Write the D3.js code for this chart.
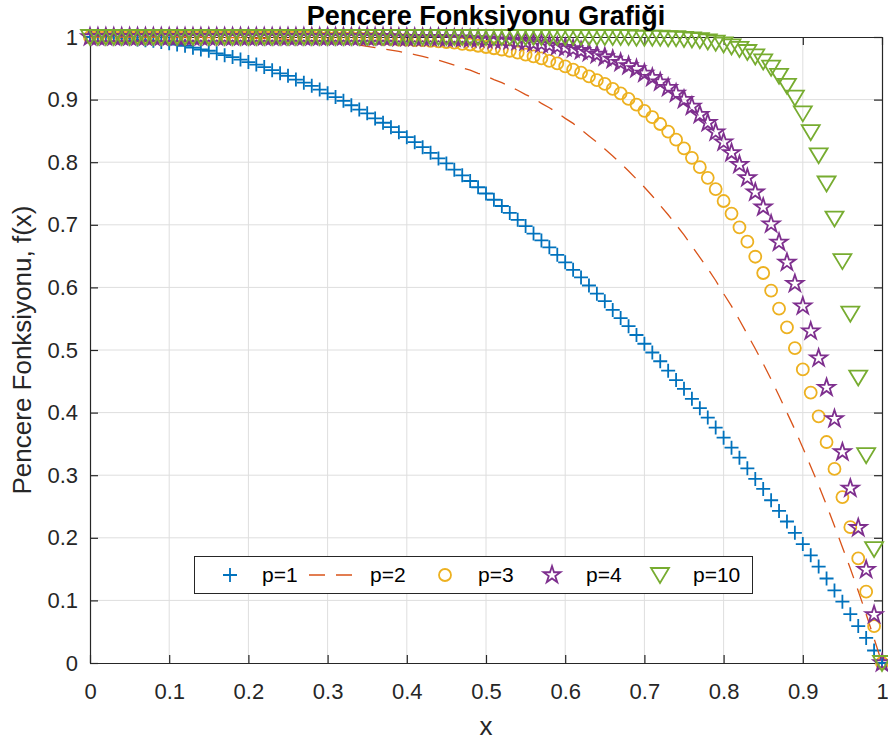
<!DOCTYPE html>
<html>
<head>
<meta charset="utf-8">
<script src="https://cdn.jsdelivr.net/npm/d3@7"></script>
<style>
    body { margin: 0; background: #ffffff; }
    svg { display: block; font-family: "Liberation Sans", Arial, sans-serif; }
</style>
</head>
<body>
<script>

const xValues = [
    0.00, 0.01, 0.02, 0.03, 0.04, 0.05, 0.06, 0.07, 0.08, 0.09,
    0.10, 0.11, 0.12, 0.13, 0.14, 0.15, 0.16, 0.17, 0.18, 0.19,
    0.20, 0.21, 0.22, 0.23, 0.24, 0.25, 0.26, 0.27, 0.28, 0.29,
    0.30, 0.31, 0.32, 0.33, 0.34, 0.35, 0.36, 0.37, 0.38, 0.39,
    0.40, 0.41, 0.42, 0.43, 0.44, 0.45, 0.46, 0.47, 0.48, 0.49,
    0.50, 0.51, 0.52, 0.53, 0.54, 0.55, 0.56, 0.57, 0.58, 0.59,
    0.60, 0.61, 0.62, 0.63, 0.64, 0.65, 0.66, 0.67, 0.68, 0.69,
    0.70, 0.71, 0.72, 0.73, 0.74, 0.75, 0.76, 0.77, 0.78, 0.79,
    0.80, 0.81, 0.82, 0.83, 0.84, 0.85, 0.86, 0.87, 0.88, 0.89,
    0.90, 0.91, 0.92, 0.93, 0.94, 0.95, 0.96, 0.97, 0.98, 0.99,
    1.00
];

const p1Values = [
    1.000, 1.000, 1.000, 0.999, 0.998, 0.998, 0.996, 0.995, 0.994, 0.992,
    0.990, 0.988, 0.986, 0.983, 0.980, 0.978, 0.974, 0.971, 0.968, 0.964,
    0.960, 0.956, 0.952, 0.947, 0.942, 0.938, 0.932, 0.927, 0.922, 0.916,
    0.910, 0.904, 0.898, 0.891, 0.884, 0.878, 0.870, 0.863, 0.856, 0.848,
    0.840, 0.832, 0.824, 0.815, 0.806, 0.798, 0.788, 0.779, 0.770, 0.760,
    0.750, 0.740, 0.730, 0.719, 0.708, 0.698, 0.686, 0.675, 0.664, 0.652,
    0.640, 0.628, 0.616, 0.603, 0.590, 0.578, 0.564, 0.551, 0.538, 0.524,
    0.510, 0.496, 0.482, 0.467, 0.452, 0.438, 0.422, 0.407, 0.392, 0.376,
    0.360, 0.344, 0.328, 0.311, 0.294, 0.278, 0.260, 0.243, 0.226, 0.208,
    0.190, 0.172, 0.154, 0.135, 0.116, 0.098, 0.078, 0.059, 0.040, 0.020,
    0.000
];

const p2Values = [
    1.000, 1.000, 1.000, 1.000, 1.000, 1.000, 1.000, 1.000, 1.000, 1.000,
    1.000, 1.000, 1.000, 1.000, 1.000, 0.999, 0.999, 0.999, 0.999, 0.999,
    0.998, 0.998, 0.998, 0.997, 0.997, 0.996, 0.995, 0.995, 0.994, 0.993,
    0.992, 0.991, 0.990, 0.988, 0.987, 0.985, 0.983, 0.981, 0.979, 0.977,
    0.974, 0.972, 0.969, 0.966, 0.963, 0.959, 0.955, 0.951, 0.947, 0.942,
    0.938, 0.932, 0.927, 0.921, 0.915, 0.908, 0.902, 0.894, 0.887, 0.879,
    0.870, 0.862, 0.852, 0.842, 0.832, 0.821, 0.810, 0.798, 0.786, 0.773,
    0.760, 0.746, 0.731, 0.716, 0.700, 0.684, 0.666, 0.648, 0.630, 0.611,
    0.590, 0.570, 0.548, 0.525, 0.502, 0.478, 0.453, 0.427, 0.400, 0.373,
    0.344, 0.314, 0.284, 0.252, 0.219, 0.185, 0.151, 0.115, 0.078, 0.039,
    0.000
];

const p3Values = [
    1.000, 1.000, 1.000, 1.000, 1.000, 1.000, 1.000, 1.000, 1.000, 1.000,
    1.000, 1.000, 1.000, 1.000, 1.000, 1.000, 1.000, 1.000, 1.000, 1.000,
    1.000, 1.000, 1.000, 1.000, 1.000, 1.000, 1.000, 1.000, 1.000, 0.999,
    0.999, 0.999, 0.999, 0.999, 0.998, 0.998, 0.998, 0.997, 0.997, 0.996,
    0.996, 0.995, 0.995, 0.994, 0.993, 0.992, 0.991, 0.989, 0.988, 0.986,
    0.984, 0.982, 0.980, 0.978, 0.975, 0.972, 0.969, 0.966, 0.962, 0.958,
    0.953, 0.948, 0.943, 0.937, 0.931, 0.925, 0.917, 0.910, 0.901, 0.892,
    0.882, 0.872, 0.861, 0.849, 0.836, 0.822, 0.807, 0.792, 0.775, 0.757,
    0.738, 0.718, 0.696, 0.673, 0.649, 0.623, 0.595, 0.566, 0.536, 0.503,
    0.469, 0.432, 0.394, 0.353, 0.310, 0.265, 0.217, 0.167, 0.114, 0.059,
    0.000
];

const p4Values = [
    1.000, 1.000, 1.000, 1.000, 1.000, 1.000, 1.000, 1.000, 1.000, 1.000,
    1.000, 1.000, 1.000, 1.000, 1.000, 1.000, 1.000, 1.000, 1.000, 1.000,
    1.000, 1.000, 1.000, 1.000, 1.000, 1.000, 1.000, 1.000, 1.000, 1.000,
    1.000, 1.000, 1.000, 1.000, 1.000, 1.000, 1.000, 1.000, 1.000, 0.999,
    0.999, 0.999, 0.999, 0.999, 0.999, 0.998, 0.998, 0.998, 0.997, 0.997,
    0.996, 0.995, 0.995, 0.994, 0.993, 0.992, 0.990, 0.989, 0.987, 0.985,
    0.983, 0.981, 0.978, 0.975, 0.972, 0.968, 0.964, 0.959, 0.954, 0.949,
    0.942, 0.935, 0.928, 0.919, 0.910, 0.900, 0.889, 0.876, 0.863, 0.848,
    0.832, 0.815, 0.796, 0.775, 0.752, 0.728, 0.701, 0.672, 0.640, 0.606,
    0.570, 0.530, 0.487, 0.440, 0.390, 0.337, 0.279, 0.216, 0.149, 0.077,
    0.000
];

const p10Values = [
    1.000, 1.000, 1.000, 1.000, 1.000, 1.000, 1.000, 1.000, 1.000, 1.000,
    1.000, 1.000, 1.000, 1.000, 1.000, 1.000, 1.000, 1.000, 1.000, 1.000,
    1.000, 1.000, 1.000, 1.000, 1.000, 1.000, 1.000, 1.000, 1.000, 1.000,
    1.000, 1.000, 1.000, 1.000, 1.000, 1.000, 1.000, 1.000, 1.000, 1.000,
    1.000, 1.000, 1.000, 1.000, 1.000, 1.000, 1.000, 1.000, 1.000, 1.000,
    1.000, 1.000, 1.000, 1.000, 1.000, 1.000, 1.000, 1.000, 1.000, 1.000,
    1.000, 1.000, 1.000, 1.000, 1.000, 1.000, 1.000, 1.000, 1.000, 0.999,
    0.999, 0.999, 0.999, 0.998, 0.998, 0.997, 0.996, 0.995, 0.993, 0.991,
    0.988, 0.985, 0.981, 0.976, 0.969, 0.961, 0.951, 0.938, 0.922, 0.903,
    0.878, 0.848, 0.811, 0.766, 0.710, 0.642, 0.558, 0.456, 0.332, 0.182,
    0.000
];

const seriesNames = ["p=1", "p=2", "p=3", "p=4", "p=10"];

const xTicks = [0, 0.1, 0.2, 0.3, 0.4, 0.5, 0.6, 0.7, 0.8, 0.9, 1];
const xTickLabels = ["0", "0.1", "0.2", "0.3", "0.4", "0.5", "0.6", "0.7", "0.8", "0.9", "1"];
const yTicks = [0, 0.1, 0.2, 0.3, 0.4, 0.5, 0.6, 0.7, 0.8, 0.9, 1];
const yTickLabels = ["0", "0.1", "0.2", "0.3", "0.4", "0.5", "0.6", "0.7", "0.8", "0.9", "1"];

function drawChart() {

    const series = [
        { name: seriesNames[0], values: p1Values, color: "#0072BD", marker: "plus" },
        { name: seriesNames[1], values: p2Values, color: "#D95319", marker: "dash" },
        { name: seriesNames[2], values: p3Values, color: "#EDB120", marker: "circle" },
        { name: seriesNames[3], values: p4Values, color: "#7E2F8E", marker: "star" },
        { name: seriesNames[4], values: p10Values, color: "#77AC30", marker: "triangle" }
    ];

    series.forEach(s => {
        s.points = xValues.map((x, i) => ({ x: x, y: s.values[i] }));
    });

    const xAccessor = d => d.x;
    const yAccessor = d => d.y;

    // define dimensions

    const dms = {
        width: 888,
        height: 744,
        margins: { top: 37, right: 6, bottom: 81, left: 90 }
    };
    dms.innerWidth = dms.width - dms.margins.left - dms.margins.right;
    dms.innerHeight = dms.height - dms.margins.top - dms.margins.bottom;

    // draw canvas

    const svg = d3.select("body")
        .append("svg")
            .attr("width", dms.width)
            .attr("height", dms.height);

    const g = svg.append("g")
        .attr("transform", `translate(${dms.margins.left},${dms.margins.top})`);

    // define scales

    const xScale = d3.scaleLinear()
        .domain([0, 1])
        .range([0, dms.innerWidth]);

    const yScale = d3.scaleLinear()
        .domain([0, 1])
        .range([dms.innerHeight, 0]);

    // grid

    g.append("g")
        .selectAll("line")
        .data(xTicks.slice(1, -1))
        .join("line")
            .attr("x1", d => xScale(d)).attr("x2", d => xScale(d))
            .attr("y1", 0).attr("y2", dms.innerHeight)
            .attr("stroke", "#dedede");

    g.append("g")
        .selectAll("line")
        .data(yTicks.slice(1, -1))
        .join("line")
            .attr("y1", d => yScale(d)).attr("y2", d => yScale(d))
            .attr("x1", 0).attr("x2", dms.innerWidth)
            .attr("stroke", "#dedede");

    // axes (ticks point inward, box on)

    const fmt = labels => (d, i) => labels[i];

    const xAxis = g.append("g")
        .attr("transform", `translate(0,${dms.innerHeight})`)
        .call(d3.axisBottom(xScale).tickValues(xTicks).tickFormat(fmt(xTickLabels))
            .tickSizeInner(-8).tickSizeOuter(0).tickPadding(20));

    const yAxis = g.append("g")
        .call(d3.axisLeft(yScale).tickValues(yTicks).tickFormat(fmt(yTickLabels))
            .tickSizeInner(-8).tickSizeOuter(0).tickPadding(12));

    const topAxis = g.append("g")
        .call(d3.axisTop(xScale).tickValues(xTicks).tickFormat("")
            .tickSizeInner(-8).tickSizeOuter(0));

    const rightAxis = g.append("g")
        .attr("transform", `translate(${dms.innerWidth},0)`)
        .call(d3.axisRight(yScale).tickValues(yTicks).tickFormat("")
            .tickSizeInner(-8).tickSizeOuter(0));

    [xAxis, yAxis, topAxis, rightAxis].forEach(a => {
        a.select(".domain").attr("stroke", "#262626").attr("stroke-width", 1.2);
        a.selectAll(".tick line").attr("stroke", "#262626").attr("stroke-width", 1.2);
        a.selectAll(".tick text")
            .attr("fill", "#262626")
            .style("font-size", "22px")
            .style("font-family", "'Liberation Sans', Arial, sans-serif");
    });

    // markers

    const markerPath = {
        plus: "M-7,0H7M0,-7V7",
        circle: d3.symbol(d3.symbolCircle, Math.PI * 36)(),
        star: d3.symbol(d3.symbolStar, 90)(),
        triangle: "M-9,-7L9,-7L0,8Z"
    };

    // draw data

    const lineGenerator = d3.line()
        .x(d => xScale(xAccessor(d)))
        .y(d => yScale(yAccessor(d)));

    series.forEach(s => {
        if (s.marker === "dash") {
            g.append("path")
                .datum(s.points)
                .attr("d", lineGenerator)
                .attr("fill", "none")
                .attr("stroke", s.color)
                .attr("stroke-width", 1.3)
                .attr("stroke-dasharray", "16,11");
        } else {
            g.append("g")
                .selectAll("path")
                .data(s.points)
                .join("path")
                    .attr("transform", d => `translate(${xScale(xAccessor(d))},${yScale(yAccessor(d))})`)
                    .attr("d", markerPath[s.marker])
                    .attr("fill", "none")
                    .attr("stroke", s.color)
                    .attr("stroke-width", 1.8);
        }
    });

    // title and labels

    svg.append("text")
        .attr("x", 486)
        .attr("y", 25)
        .attr("text-anchor", "middle")
        .style("font-size", "27px")
        .style("font-weight", "bold")
        .attr("fill", "#000")
        .text("Pencere Fonksiyonu Grafiği");

    svg.append("text")
        .attr("x", dms.margins.left + dms.innerWidth / 2)
        .attr("y", 735)
        .attr("text-anchor", "middle")
        .style("font-size", "26px")
        .attr("fill", "#262626")
        .text("x");

    svg.append("text")
        .attr("transform", `translate(31,${dms.margins.top + dms.innerHeight / 2}) rotate(-90)`)
        .attr("text-anchor", "middle")
        .style("font-size", "26px")
        .attr("fill", "#262626")
        .text("Pencere Fonksiyonu, f(x)");

    // legend

    const legend = svg.append("g");

    legend.append("rect")
        .attr("x", 194.5).attr("y", 556.5)
        .attr("width", 558).attr("height", 37)
        .attr("fill", "#fff")
        .attr("stroke", "#262626")
        .attr("stroke-width", 1);

    const iconX = [230, 333, 445, 552, 660];
    const labelX = [262, 370, 478, 586, 693];
    const legendY = 575;

    series.forEach((s, i) => {
        if (s.marker === "dash") {
            legend.append("line")
                .attr("x1", iconX[i] - 24).attr("x2", iconX[i] + 24)
                .attr("y1", legendY).attr("y2", legendY)
                .attr("stroke", s.color)
                .attr("stroke-width", 1.3)
                .attr("stroke-dasharray", "16,11");
        } else {
            legend.append("path")
                .attr("transform", `translate(${iconX[i]},${legendY})`)
                .attr("d", markerPath[s.marker])
                .attr("fill", "none")
                .attr("stroke", s.color)
                .attr("stroke-width", 1.8);
        }
        legend.append("text")
            .attr("x", labelX[i])
            .attr("y", legendY + 7)
            .style("font-size", "21px")
            .attr("fill", "#000")
            .text(s.name);
    });
}

drawChart();
</script>
</body>
</html>
